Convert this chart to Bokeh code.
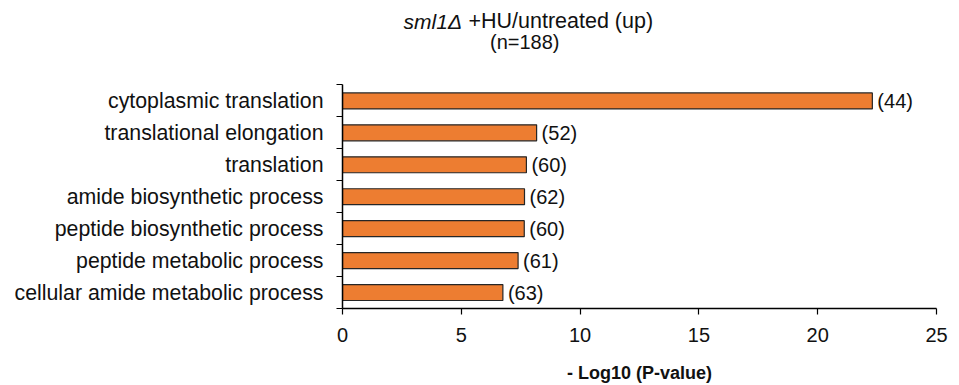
from bokeh.plotting import figure
from bokeh.models import Range1d, FixedTicker, ColumnDataSource, LabelSet
from bokeh.core.properties import value
from bokeh.embed import file_html
from bokeh.resources import INLINE

categories = ["cytoplasmic translation", "translational elongation", "translation",
              "amide biosynthetic process", "peptide biosynthetic process",
              "peptide metabolic process", "cellular amide metabolic process"]
values = [22.3, 8.17, 7.74, 7.66, 7.65, 7.39, 6.75]
counts = ["(44)", "(52)", "(60)", "(62)", "(60)", "(61)", "(63)"]
x_ticks = [0, 5, 10, 15, 20, 25]
title_italic = "sml1Δ"
title_rest = "+HU/untreated (up)"
subtitle = "(n=188)"

FONT = "Liberation Sans"
n = len(categories)
ypos = [n - i - 0.5 for i in range(n)]
PX = 225.0 / n          # pixels per category
TOP = n + 85.0 / PX     # frame extends up to the top of the canvas to hold the title

src = ColumnDataSource(dict(y=ypos, v=values, c=counts, cat=categories))

p = figure(width=959, height=385, output_backend="svg", toolbar_location=None,
           x_range=Range1d(0, 25), y_range=Range1d(0, TOP),
           min_border_left=342, min_border_right=23, min_border_top=0, min_border_bottom=75)
p.outline_line_color = None
p.grid.visible = False
p.background_fill_color = "white"

p.hbar(y="y", left=0, right="v", height=0.5, source=src,
       fill_color="#ED7D31", line_color="#262626", line_width=1.2)

p.add_layout(LabelSet(x="v", y="y", text="c", source=src, x_offset=5,
                      text_baseline="middle", text_align="left",
                      text_font=value(FONT), text_font_size="20px", text_color="#111111"))

# x axis
xa = p.xaxis[0]
xa.ticker = FixedTicker(ticks=x_ticks)
xa.major_tick_out = 6
xa.major_tick_in = 0
xa.minor_tick_out = 0
xa.minor_tick_in = 0
xa.axis_line_color = "black"
xa.axis_line_width = 1.5
xa.major_tick_line_color = "black"
xa.major_tick_line_width = 1.2
xa.major_label_text_font = FONT
xa.major_label_text_font_size = "20px"
xa.major_label_text_color = "#111111"
xa.major_label_standoff = 13
xa.axis_label = "- Log10 (P-value)"
xa.axis_label_text_font = FONT
xa.axis_label_text_font_size = "18px"
xa.axis_label_text_font_style = "bold"
xa.axis_label_text_color = "#111111"
xa.axis_label_standoff = 18

# y axis: labels at category centres, ticks at boundaries
ya = p.yaxis[0]
ya.bounds = (0, n)
ya.ticker = FixedTicker(ticks=ypos, minor_ticks=list(range(n + 1)))
ya.major_label_overrides = {y: c for y, c in zip(ypos, categories)}
ya.major_tick_out = 0
ya.major_tick_in = 0
ya.minor_tick_out = 6
ya.minor_tick_in = 0
ya.minor_tick_line_color = "black"
ya.minor_tick_line_width = 1.2
ya.axis_line_color = "black"
ya.axis_line_width = 1.5
ya.major_label_text_font = FONT
ya.major_label_text_font_size = "21.3px"
ya.major_label_text_color = "#111111"
ya.major_label_standoff = 13

# title (two lines, first word italic)
p.text(x=[2.57], y=[8.99], text=[title_italic], text_font=value(FONT),
       text_font_size="21px", text_font_style="italic", text_align="left",
       text_baseline="middle", text_color="#111111")
p.text(x=[5.30], y=[8.99], text=[title_rest], text_font=value(FONT),
       text_font_size="21.5px", text_align="left", text_baseline="middle",
       text_color="#111111")
p.text(x=[7.67], y=[8.34], text=[subtitle], text_font=value(FONT),
       text_font_size="20px", text_align="center", text_baseline="middle",
       text_color="#111111")

open("out.html", "w").write(file_html(p, INLINE))
